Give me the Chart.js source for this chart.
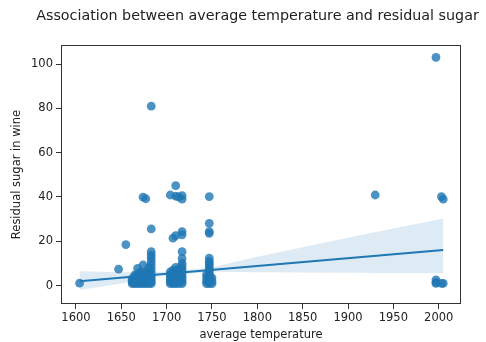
<!DOCTYPE html>
<html lang="en">
<head>
    <meta charset="UTF-8">
    <title>Association between average temperature and residual sugar</title>
    <script src="https://cdn.jsdelivr.net/npm/chart.js"></script>
    <style>
        body { margin: 0; background: #fff; }
        #chart { display: block; }
    </style>
</head>
<body>
    <canvas id="chart" width="486" height="342"></canvas>
    <script>
        // scatter columns: temperature -> residual sugar values
        const tempCols = [1604, 1647, 1655, 1662, 1665, 1668, 1671, 1674, 1677, 1680, 1683,
            1704, 1707, 1710, 1713, 1717, 1744, 1747, 1750, 1930, 1997, 2003, 2005];
        const sugarCols = [
            [1.1],
            [7.4],
            [18.5],
            [0.9, 1.6, 2.4, 3.2],
            [0.9, 1.4, 2.0, 2.6, 3.3, 4.0, 4.8],
            [0.9, 1.5, 2.2, 3.0, 3.8, 5.0, 7.8],
            [0.9, 1.6, 2.4, 3.4, 4.6, 6.2],
            [0.9, 1.5, 2.3, 3.2, 4.4, 6.0, 9.3, 39.9],
            [0.9, 1.8, 2.8, 4.0, 5.4, 39.2],
            [0.9, 1.6, 2.5, 3.5, 4.8, 6.5, 8.0],
            [0.9, 1.7, 2.6, 3.6, 4.8, 6.2, 7.8, 9.5, 11.0, 12.5, 13.8, 15.3, 25.6, 81.0],
            [0.9, 1.8, 2.8, 3.8, 5.0, 6.2, 40.9],
            [0.9, 1.6, 2.5, 3.5, 4.6, 5.8, 7.0, 21.4],
            [0.9, 1.7, 2.7, 3.8, 5.0, 6.4, 8.2, 22.6, 40.4, 45.1],
            [0.9, 1.6, 2.6, 3.6, 4.8, 6.0, 7.4, 40.0],
            [0.9, 1.7, 2.7, 3.8, 5.0, 6.3, 7.6, 8.9, 10.1, 12.3, 15.3, 22.9, 24.4, 39.0, 40.6],
            [0.9, 2.0, 3.5, 5.0],
            [0.9, 1.6, 2.4, 3.2, 4.1, 5.0, 6.0, 7.0, 8.0, 9.0, 10.0, 11.0, 12.4, 23.6, 24.4, 28.1, 40.2],
            [0.9, 2.0, 3.5],
            [40.9],
            [1.0, 1.5, 2.6, 103.0],
            [1.0, 40.2],
            [1.0, 39.0]
        ];

        // regression fit and confidence band
        const fitX = [1604, 2005];
        const fitY = [2.0, 16.1];
        const bandX = [1604, 1650, 1700, 1750, 1800, 1850, 1900, 1950, 2005];
        const bandUpper = [6.5, 6.0, 6.3, 8.3, 13.0, 17.3, 21.6, 25.8, 30.2];
        const bandLower = [-2.0, 1.0, 4.6, 6.2, 6.0, 5.9, 5.8, 5.7, 5.6];

        const xTicks = [1600, 1650, 1700, 1750, 1800, 1850, 1900, 1950, 2000];
        const yTicks = [0, 20, 40, 60, 80, 100];

        const titleText = 'Association between average temperature and residual sugar';
        const blue = '#1f77b4';
        const font = { family: 'DejaVu Sans', size: 11.5 };

        let points = [];
        tempCols.forEach((t, i) => {
            sugarCols[i].forEach(v => points.push({ x: t, y: v }));
        });

        // axes frame on all four sides + title (wider than the plot area)
        const frame = {
            id: 'frame',
            afterDraw(chart) {
                const a = chart.chartArea;
                const c = chart.ctx;
                c.save();
                c.strokeStyle = '#333';
                c.lineWidth = 1;
                c.strokeRect(Math.round(a.left) + 0.5, Math.round(a.top) + 0.5,
                    Math.round(a.right - a.left) - 1, Math.round(a.bottom - a.top) - 1);
                c.fillStyle = '#222';
                c.font = '14.3px "DejaVu Sans"';
                c.textAlign = 'center';
                c.textBaseline = 'middle';
                c.fillText(titleText, 257.5, 16);
                c.restore();
            }
        };

        new Chart(document.getElementById('chart'), {
            type: 'scatter',
            data: {
                datasets: [
                    {
                        type: 'line',
                        data: fitX.map((x, i) => ({ x: x, y: fitY[i] })),
                        borderColor: blue,
                        borderWidth: 2,
                        pointRadius: 0,
                        order: 0
                    },
                    {
                        type: 'line',
                        data: bandX.map((x, i) => ({ x: x, y: bandUpper[i] })),
                        borderWidth: 0,
                        borderColor: 'rgba(0,0,0,0)',
                        pointRadius: 0,
                        fill: '+1',
                        backgroundColor: 'rgba(31,119,180,0.15)',
                        order: 1
                    },
                    {
                        type: 'line',
                        data: bandX.map((x, i) => ({ x: x, y: bandLower[i] })),
                        borderWidth: 0,
                        borderColor: 'rgba(0,0,0,0)',
                        pointRadius: 0,
                        fill: false,
                        order: 2
                    },
                    {
                        data: points,
                        backgroundColor: 'rgba(31,119,180,0.8)',
                        borderWidth: 0,
                        pointRadius: 4.4,
                        order: 3
                    }
                ]
            },
            options: {
                responsive: false,
                devicePixelRatio: 1,
                animation: false,
                layout: { padding: { left: 0, right: 25, top: 45, bottom: 0 } },
                plugins: {
                    legend: { display: false },
                    tooltip: { enabled: false },
                    title: { display: false }
                },
                scales: {
                    x: {
                        type: 'linear',
                        min: 1583.5,
                        max: 2024.6,
                        afterBuildTicks: s => { s.ticks = xTicks.map(v => ({ value: v })); },
                        afterFit: s => { s.height = 38; },
                        grid: { drawOnChartArea: false, drawTicks: true, tickLength: 5, color: '#333' },
                        border: { display: false },
                        ticks: { color: '#222', font: font, padding: 2, maxRotation: 0, callback: v => String(v) },
                        title: { display: true, text: 'average temperature', color: '#222', font: font, padding: { top: 0, bottom: 0 } }
                    },
                    y: {
                        min: -8.3,
                        max: 108.6,
                        afterBuildTicks: s => { s.ticks = yTicks.map(v => ({ value: v })); },
                        afterFit: s => { s.width = 61; },
                        grid: { drawOnChartArea: false, drawTicks: true, tickLength: 5, color: '#333' },
                        border: { display: false },
                        ticks: { color: '#222', font: font, padding: 3, callback: v => String(v) },
                        title: { display: true, text: 'Residual sugar in wine', color: '#222', font: font, padding: { top: 10.6, bottom: 0 } }
                    }
                }
            },
            plugins: [frame]
        });
    </script>
</body>
</html>
